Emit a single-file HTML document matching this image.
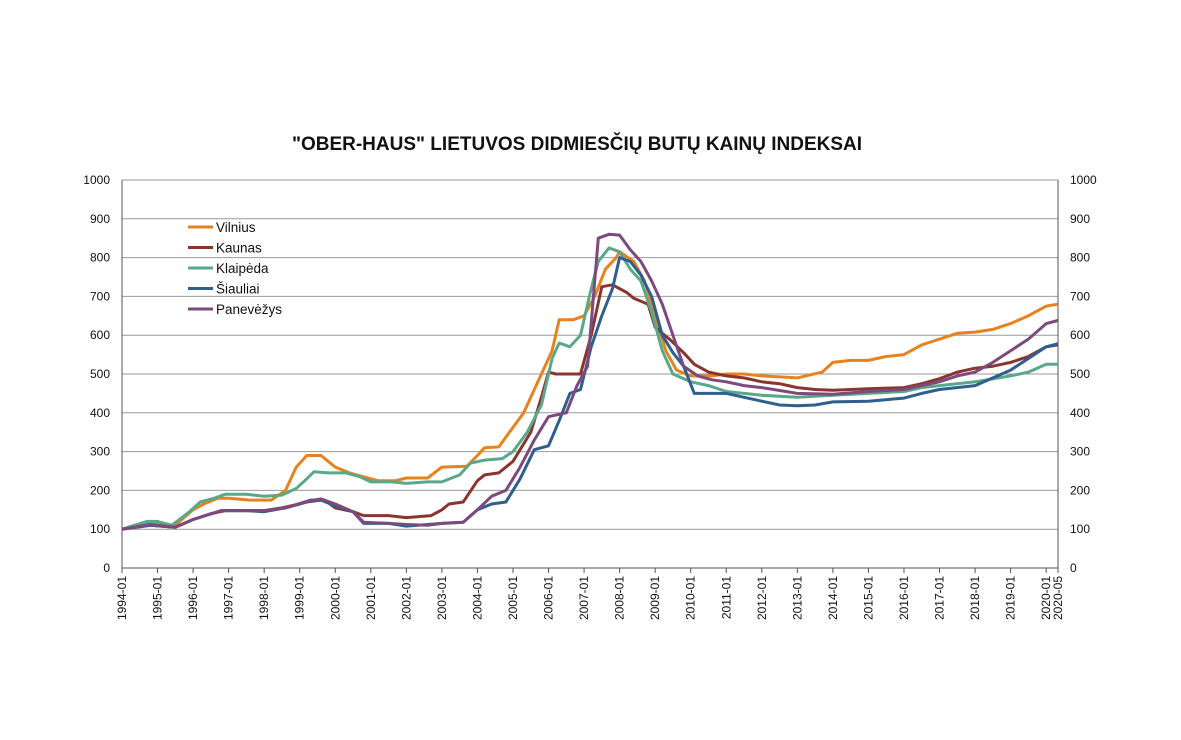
<!DOCTYPE html>
<html><head><meta charset="utf-8"><style>
body{margin:0;background:#fff;font-family:"Liberation Sans",sans-serif}
svg text{font-family:"Liberation Sans",sans-serif;fill:#111}
</style></head><body>
<svg id="c" width="1181" height="735">
<text x="577" y="150" text-anchor="middle" font-size="19" font-weight="bold">"OBER-HAUS" LIETUVOS DIDMIESČIŲ BUTŲ KAINŲ INDEKSAI</text>
<g id="grid"></g><g id="series"></g><g id="legend"></g>
</svg>
<script>
const yTicks=[0,100,200,300,400,500,600,700,800,900,1000];
const xLabels=["1994-01","1995-01","1996-01","1997-01","1998-01","1999-01","2000-01","2001-01","2002-01","2003-01","2004-01","2005-01","2006-01","2007-01","2008-01","2009-01","2010-01","2011-01","2012-01","2013-01","2014-01","2015-01","2016-01","2017-01","2018-01","2019-01","2020-01","2020-05"];
const names=["Vilnius","Kaunas","Klaipėda","Šiauliai","Panevėžys"];
const colors=["#e8821e","#8b3530","#5aa88a","#2f5f8f","#7d4a7d"];
const vilniusT=[1994,1994.8,1995.5,1996,1996.3,1996.7,1997,1997.6,1998.2,1998.6,1998.9,1999.2,1999.6,1999.8,2000,2000.4,2000.8,2001.2,2001.7,2002,2002.6,2003,2003.7,2004,2004.2,2004.6,2004.9,2005.3,2005.6,2005.9,2006.1,2006.3,2006.7,2007,2007.3,2007.6,2007.9,2008,2008.4,2008.7,2009,2009.3,2009.6,2010,2010.6,2011,2011.5,2012,2013,2013.7,2014,2014.5,2015,2015.5,2016,2016.5,2017,2017.5,2018,2018.5,2019,2019.5,2020,2020.33];
const vilniusV=[100,115,110,150,165,180,180,175,175,200,260,290,290,275,260,245,235,225,225,232,232,260,262,290,310,312,350,400,460,520,560,640,640,650,700,770,800,815,790,740,650,560,510,495,495,500,500,495,490,505,530,535,535,545,550,575,590,605,608,615,630,650,675,680];
const kaunasT=[1994,1994.8,1995.5,1996,1996.5,1996.9,1997.5,1998,1998.5,1999,1999.3,1999.7,2000,2000.5,2000.8,2001.5,2002,2002.7,2003,2003.2,2003.6,2004,2004.2,2004.6,2005,2005.5,2005.8,2006,2006.2,2006.6,2006.9,2007.2,2007.5,2007.8,2008.2,2008.4,2008.8,2009,2009.4,2009.8,2010.1,2010.5,2011,2011.5,2012,2012.5,2013,2013.5,2014,2015,2016,2016.5,2017,2017.5,2018,2018.5,2019,2019.5,2020,2020.33];
const kaunasV=[100,110,105,125,140,148,148,148,155,165,175,175,155,145,135,135,130,135,150,165,170,225,240,245,275,350,440,505,500,500,500,600,725,730,710,695,680,620,590,555,525,505,495,490,480,475,465,460,458,462,465,475,488,505,515,520,530,545,570,575];
const klaipedaT=[1994,1994.7,1995,1995.4,1995.9,1996.2,1996.6,1996.9,1997.5,1998,1998.5,1998.9,1999.2,1999.4,1999.8,2000.3,2000.7,2001,2001.6,2002,2002.6,2003,2003.5,2003.8,2004.2,2004.7,2005,2005.4,2005.8,2006.1,2006.3,2006.6,2006.9,2007.2,2007.4,2007.7,2008,2008.3,2008.6,2008.9,2009.2,2009.5,2010,2010.5,2011,2012,2013,2014,2015,2016,2016.5,2017,2018,2019,2019.5,2020,2020.33];
const klaipedaV=[100,120,120,110,145,170,180,190,190,185,188,205,230,248,245,245,235,222,222,218,222,222,240,270,278,282,300,350,420,540,580,570,600,720,790,825,815,770,740,660,560,500,480,470,455,445,440,445,450,455,465,470,480,495,505,525,525];
const siauliaiT=[1994,1994.8,1995.5,1996,1996.8,1997.5,1998,1998.6,1999.2,1999.6,2000,2000.5,2000.8,2001.5,2002,2002.6,2003,2003.6,2004,2004.4,2004.8,2005.2,2005.6,2006,2006.3,2006.6,2006.9,2007.2,2007.5,2007.8,2008,2008.3,2008.6,2008.9,2009.2,2009.5,2009.8,2010.1,2010.5,2011,2011.5,2012,2012.5,2013,2013.5,2014,2015,2016,2016.5,2017,2018,2018.5,2019,2019.5,2020,2020.33];
const siauliaiV=[100,110,105,125,148,148,145,155,170,175,160,145,115,115,108,112,115,118,150,165,170,230,305,315,380,450,460,570,650,720,800,790,755,700,600,555,520,450,450,450,440,430,420,418,420,428,430,438,450,460,470,490,510,540,570,578];
const panevezysT=[1994,1994.8,1995.5,1996,1996.8,1997.5,1998,1998.6,1999.2,1999.6,2000,2000.5,2000.8,2001.5,2002,2002.6,2003,2003.6,2004,2004.4,2004.8,2005.2,2005.6,2006,2006.5,2006.8,2007.1,2007.4,2007.7,2008,2008.3,2008.6,2008.9,2009.2,2009.5,2009.8,2010.2,2010.6,2011,2011.5,2012,2013,2014,2015,2016,2016.5,2017,2017.5,2018,2018.5,2019,2019.5,2020,2020.33];
const panevezysV=[100,112,105,125,148,148,148,155,172,178,165,145,118,115,112,110,115,118,150,185,200,260,330,390,400,470,520,850,860,858,820,790,740,680,600,520,495,485,480,470,465,450,448,455,460,470,480,495,505,530,560,590,630,638];
const seriesT=[vilniusT,kaunasT,klaipedaT,siauliaiT,panevezysT];
const seriesV=[vilniusV,kaunasV,klaipedaV,siauliaiV,panevezysV];
const ns="http://www.w3.org/2000/svg";
const X0=122,X1=1058,Y0=568,Y1=180,T0=1994,T1=2020+4/12;
const xs=t=>X0+(t-T0)/(T1-T0)*(X1-X0);
const ys=v=>Y0-v/1000*(Y0-Y1);
function mk(tag,a,p){const e=document.createElementNS(ns,tag);for(const k in a)e.setAttribute(k,a[k]);p.appendChild(e);return e;}
const g=document.getElementById('grid');
yTicks.forEach(v=>{
 const l=mk('line',{x1:X0,x2:X1,y1:ys(v),y2:ys(v),stroke:v==0?'#555':'#999','stroke-width':1},g);
 
 
 const a=mk('text',{x:X0-12,y:ys(v)+4,'text-anchor':'end','font-size':12},g);a.textContent=v;
 
 
 const b=mk('text',{x:X1+12,y:ys(v)+4,'font-size':12},g);b.textContent=v;
 
 
});
[X0,X1].forEach((x,i)=>{const l=mk('line',{x1:x,x2:x,y1:Y1,y2:Y0,stroke:'#555'},g);
 
 });
xLabels.forEach(s=>{
 const t=+s.slice(0,4)+(+s.slice(5)-1)/12,x=xs(t);
 mk('line',{x1:x,x2:x,y1:Y0,y2:Y0+5,stroke:'#555'},g);
 const tx=mk('text',{x:0,y:0,'text-anchor':'end','font-size':12,transform:`translate(${x+4},${Y0+8}) rotate(-90)`},g);
 tx.textContent=s;
 
 
});
const sg=document.getElementById('series');
seriesT.forEach((T,i)=>{
 const d=T.map((t,j)=>(j?'L':'M')+xs(t).toFixed(1)+','+ys(seriesV[i][j]).toFixed(1)).join('');
 const p=mk('path',{d:d,fill:'none',stroke:colors[i],'stroke-width':3,'stroke-linejoin':'round'},sg);
 
 
});
const lg=document.getElementById('legend');
names.forEach((n,i)=>{
 const y=227+i*20.5;
 const l=mk('line',{x1:188,x2:213,y1:y,y2:y,stroke:colors[i],'stroke-width':3},lg);
 
 
 const t=mk('text',{x:216,y:y+5,'font-size':13.5},lg);t.textContent=n;
 
 
});
</script>
</body></html>
